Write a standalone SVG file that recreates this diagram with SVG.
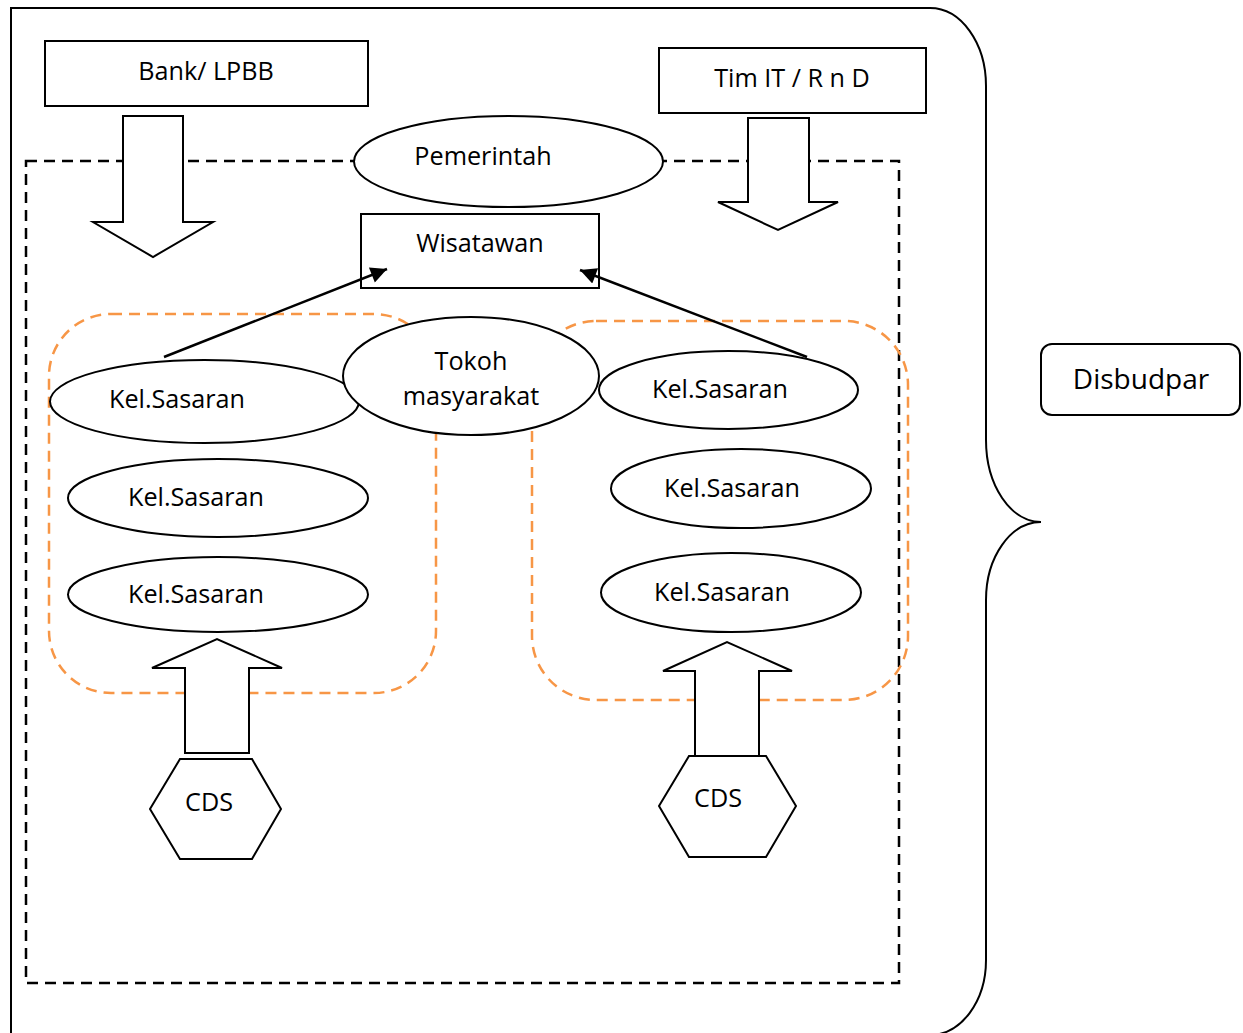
<svg xmlns="http://www.w3.org/2000/svg" width="1243" height="1033" viewBox="0 0 1243 1033">
<style>
.s{fill:#fff;stroke:#000;stroke-width:2}
.t{font-family:"Open Sans","Liberation Sans",Arial,sans-serif;font-size:25.2px;fill:#000;text-anchor:middle}
.bd{fill:none;stroke:#000;stroke-width:2.5;stroke-dasharray:11 7}
.od{fill:none;stroke:#F79646;stroke-width:2.5;stroke-dasharray:11 7}
.c{fill:none;stroke:#000;stroke-width:2.5}
</style>
<defs>
<marker id="ah" viewBox="0 0 10 10" refX="10" refY="5" markerWidth="8" markerHeight="6.5" markerUnits="strokeWidth" orient="auto">
<path d="M0,0 L10,5 L0,10 z" fill="#000"/>
</marker>
</defs>
<rect width="1243" height="1033" fill="#fff"/>
<g id="outer">
<path d="M11,1040 L11,8 L930,8 A56,78 0 0 1 986,86 L986,440 A55,82 0 0 0 1041,522 A55,78 0 0 0 986,600 L986,960 A56,75 0 0 1 930,1035" fill="none" stroke="#000" stroke-width="2"/>
</g>
<g id="dashed-area">
<rect x="26" y="161" width="873" height="822" class="bd"/>
</g>
<g id="group-left">
<rect x="49" y="314" width="387" height="379" rx="62" class="od"/>
</g>
<g id="group-right">
<rect x="532" y="321" width="376" height="379" rx="64" class="od"/>
</g>
<g id="bank">
<rect x="45" y="41" width="323" height="65" class="s"/>
<text x="206" y="80" class="t">Bank/ LPBB</text>
</g>
<g id="tim-it">
<rect x="659" y="48" width="267" height="65" class="s"/>
<text x="792" y="87" class="t">Tim IT / R n D</text>
</g>
<g id="arrow-bank">
<path d="M123,116 L183,116 L183,222 L213,222 L153,257 L93,222 L123,222 Z" class="s"/>
</g>
<g id="arrow-tim">
<path d="M748,118 L809,118 L809,202 L838,202 L778,230 L718,202 L748,202 Z" class="s"/>
</g>
<g id="pemerintah">
<ellipse cx="508.5" cy="161.5" rx="154.5" ry="45.5" class="s"/>
<text x="483" y="165" class="t">Pemerintah</text>
</g>
<g id="wisatawan">
<rect x="361" y="214" width="238" height="74" class="s"/>
<text x="480" y="252" class="t">Wisatawan</text>
</g>
<g id="kel-l1">
<ellipse cx="204.5" cy="401.5" rx="154.5" ry="41.5" class="s"/>
<text x="177" y="408" class="t">Kel.Sasaran</text>
</g>
<g id="tokoh">
<ellipse cx="471" cy="376" rx="128" ry="59" class="s"/>
<text x="471" y="370" class="t">Tokoh</text>
<text x="471" y="405" class="t">masyarakat</text>
</g>
<g id="kel-l2">
<ellipse cx="218" cy="498" rx="150" ry="39" class="s"/>
<text x="196" y="506" class="t">Kel.Sasaran</text>
</g>
<g id="kel-l3">
<ellipse cx="218" cy="594.5" rx="150" ry="37.5" class="s"/>
<text x="196" y="603" class="t">Kel.Sasaran</text>
</g>
<g id="kel-r1">
<ellipse cx="728.5" cy="390" rx="129.5" ry="39" class="s"/>
<text x="720" y="398" class="t">Kel.Sasaran</text>
</g>
<g id="kel-r2">
<ellipse cx="741" cy="488.5" rx="130" ry="39.5" class="s"/>
<text x="732" y="497" class="t">Kel.Sasaran</text>
</g>
<g id="kel-r3">
<ellipse cx="731" cy="592.5" rx="130" ry="39.5" class="s"/>
<text x="722" y="601" class="t">Kel.Sasaran</text>
</g>
<g id="arrow-cds-left">
<path d="M185,753 L249,753 L249,668 L282,668 L217,639 L152,668 L185,668 Z" class="s"/>
</g>
<g id="arrow-cds-right">
<path d="M695,756 L759,756 L759,671 L792,671 L727,642 L663,671 L695,671 Z" class="s"/>
</g>
<g id="cds-left">
<polygon points="180,759 252,759 281,809 252,859 180,859 150,809" class="s"/>
<text x="209" y="811" class="t">CDS</text>
</g>
<g id="cds-right">
<polygon points="689,756 766,756 796,806 766,857 689,857 659,806" class="s"/>
<text x="718" y="807" class="t">CDS</text>
</g>
<g id="disbudpar">
<rect x="1041" y="344" width="199" height="71" rx="11" class="s"/>
<text x="1141" y="389" class="t" style="font-size:28px">Disbudpar</text>
</g>
<g id="connectors">
<line x1="164" y1="357" x2="387" y2="269" class="c" marker-end="url(#ah)"/>
<line x1="807" y1="357" x2="580" y2="270" class="c" marker-end="url(#ah)"/>
</g>
</svg>
